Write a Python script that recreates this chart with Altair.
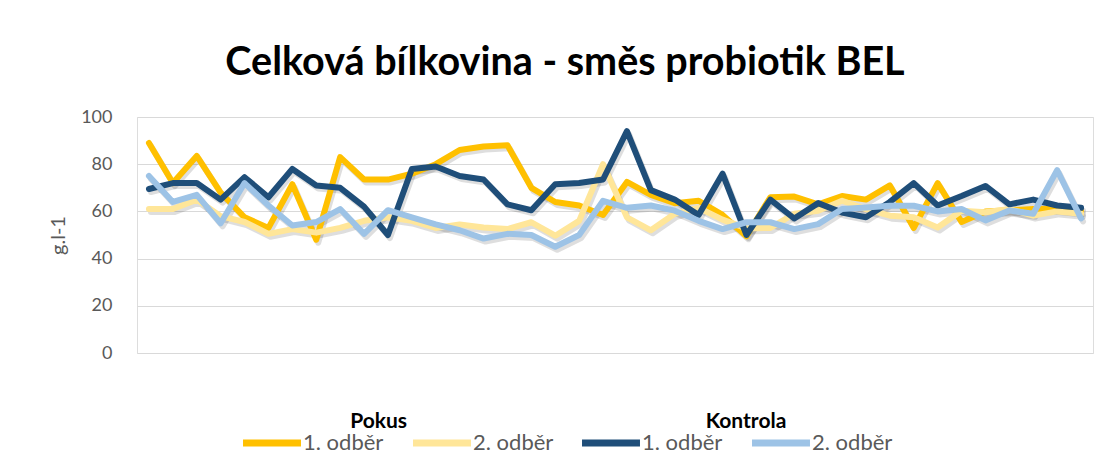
import altair as alt
import pandas as pd

# ---- data (40 samples per series) ----
vzorky = list(range(1, 41))

pokus_1 = [89, 72, 83.5, 68, 57.5, 53, 71.5, 48, 83, 73.5,
           73.5, 76, 80, 86, 87.5, 88, 70, 64, 62.5, 58.5,
           72.5, 67, 63.5, 64.5, 58.5, 49.5, 66, 66.3, 63, 66.5,
           65, 71, 53, 72, 55.5, 60, 60.5, 61, 61, 60]
pokus_2 = [61, 61, 65, 58, 55.5, 50.5, 52.5, 51, 53, 56,
           57.5, 56, 53, 54.5, 53.2, 52.5, 55.4, 49.7, 56, 80,
           57.5, 52, 59, 61.5, 56.5, 52.8, 53, 59, 60.3, 64.5,
           61, 58.2, 57.5, 53.2, 60.3, 59.6, 61, 58.2, 60, 59]
kontrola_1 = [69.5, 72, 72, 65, 74.5, 66, 78, 71, 70, 62,
              50, 78, 79, 75, 73.5, 63, 60.5, 71.5, 72, 73.5,
              94, 69, 65, 58.5, 76, 50, 65, 57, 63.5, 59.5,
              57.5, 64, 72, 62.5, 66.5, 70.8, 63, 65, 62.5, 61.5]
kontrola_2 = [75, 64, 67, 55, 72, 62.5, 54, 55.5, 61, 50.5,
              60.5, 57.5, 54.5, 52, 48.5, 50.5, 50, 45, 50, 64.5,
              61.5, 62.5, 60.3, 56, 52.5, 55.4, 55.4, 52.5, 54.6, 61,
              61.7, 62.4, 62.4, 60, 61, 56.2, 60.4, 59, 77.5, 57]

odbery = ["1. odběr", "2. odběr"]
y_ticks = [0, 20, 40, 60, 80, 100]

rows = []
for skupina, series in (("Pokus", (pokus_1, pokus_2)), ("Kontrola", (kontrola_1, kontrola_2))):
    for odber, vals in zip(odbery, series):
        for v, h in zip(vzorky, vals):
            rows.append({"vzorek": v, "skupina": skupina, "odber": odber,
                         "serie": skupina + " " + odber, "hodnota": h})
df = pd.DataFrame(rows)

FONT = "Lato"
GREY = "#595959"

x_enc = alt.X("vzorek:Q", scale=alt.Scale(domain=[0.5, 40.5], nice=False, zero=False), axis=None)
y_enc = alt.Y(
    "hodnota:Q",
    scale=alt.Scale(domain=[0, 100], nice=False),
    axis=alt.Axis(values=y_ticks, title="g.l-1", grid=True, gridColor="#d9d9d9",
                  domain=False, ticks=False, labelPadding=25, labelFontSize=18,
                  labelColor=GREY, labelFont=FONT, titleFont=FONT, titleFontSize=20,
                  titleFontWeight="normal", titleColor=GREY, titlePadding=12),
)

# wide, flat line symbol for the legend (path scaled by sqrt(size)/2)
LINE_SYMBOL = "M-4,0H4"

def legend(title, lx, align):
    return alt.Legend(
        title=title, orient="none", legendX=lx, legendY=294, direction="horizontal",
        titleAnchor="middle", titleAlign=align, titleFont=FONT, titleFontSize=21,
        titleFontWeight="bold", titleColor="#000000", titlePadding=0,
        labelFont=FONT, labelFontSize=22, labelColor=GREY, labelOffset=20,
        symbolType=LINE_SYMBOL, symbolSize=210, symbolStrokeWidth=7,
        columnPadding=15, padding=0,
    )

shadow = alt.Chart(df).mark_line(
    stroke="#000000", strokeWidth=6, opacity=0.13, xOffset=2, yOffset=3,
    strokeJoin="round", strokeCap="round",
).encode(x=x_enc, y=y_enc, detail="serie:N")

pokus = alt.Chart(df).transform_filter(alt.datum.skupina == "Pokus").mark_line(
    strokeWidth=6, strokeJoin="round", strokeCap="round",
).encode(
    x=x_enc, y=y_enc,
    color=alt.Color("odber:N", scale=alt.Scale(domain=odbery, range=["#FFC000", "#FFE699"]),
                    legend=legend("Pokus", 124, "right")),
)

kontrola = alt.Chart(df).transform_filter(alt.datum.skupina == "Kontrola").mark_line(
    strokeWidth=6, strokeJoin="round", strokeCap="round",
).encode(
    x=x_enc, y=y_enc,
    color=alt.Color("odber:N", scale=alt.Scale(domain=odbery, range=["#1F4E79", "#9DC3E6"]),
                    legend=legend("Kontrola", 463, "center")),
)

chart = alt.layer(shadow, pokus, kontrola).resolve_scale(color="independent").properties(
    width=956, height=236,
    autosize=alt.AutoSizeParams(type="none"),
    padding={"left": 129, "top": 109, "right": 8, "bottom": 105},
    title=alt.TitleParams("Celková bílkovina - směs probiotik BEL", font=FONT, fontSize=39.5,
                          fontWeight="bold", color="#000000", anchor="middle", frame="group",
                          dx=-50, offset=25),
).configure_view(stroke=None).configure(background="white")

chart.save("out.html", embed_options={"renderer": "svg", "actions": False})
